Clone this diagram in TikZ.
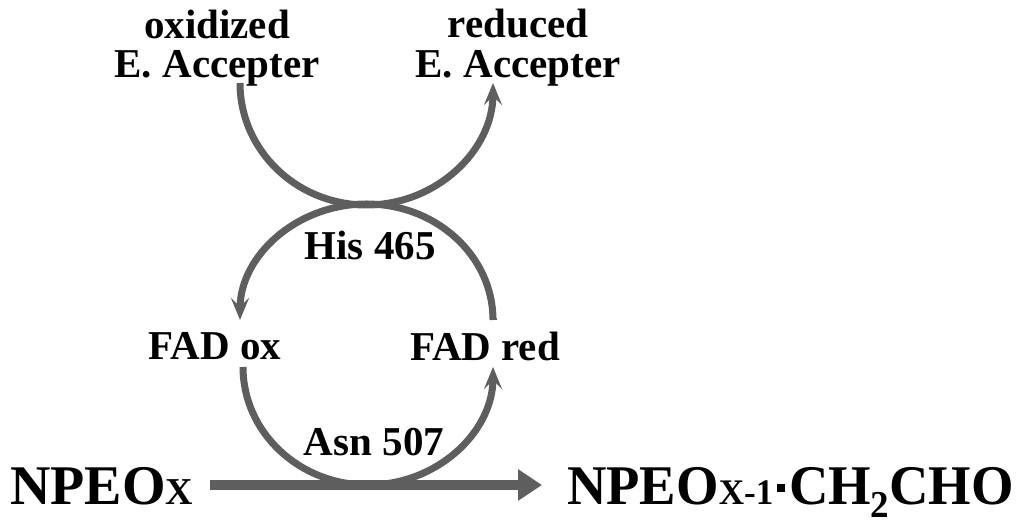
\documentclass[tikz,border=0pt]{standalone}
\usepackage{fontspec}
\setmainfont{Liberation Serif}
\usetikzlibrary{arrows.meta}
\definecolor{arcgray}{HTML}{5E5E5E}
\tikzset{
  lbl/.style={font=\fontsize{41}{44}\selectfont\bfseries, inner sep=0pt},
  big/.style={font=\fontsize{56}{60}\selectfont\bfseries, inner sep=0pt, anchor=base west},
  arcline/.style={draw=arcgray, line width=7pt},
  tip/.style={-{Stealth[length=22pt,width=18pt,inset=9pt]}},
}
\begin{document}
\begin{tikzpicture}[x=1pt,y=1pt]
\useasboundingbox (0,0) rectangle (1024,532);
% labels
\node[lbl] (ox1) at (217,508) {oxidized};
\node[lbl] (oxE) at (217,464) {E. Accepter};
\node[lbl] (re1) at (518,508) {reduced};
\node[lbl] (reE) at (518,464) {E. Accepter};
\node[lbl] (his) at (370,287) {His 465};
\node[lbl] (fox) at (215,186) {FAD ox};
\node[lbl] (fred) at (485,186) {FAD red};
\node[lbl] (asn) at (374,90) {Asn 507};
\node[big] (npeo) at (10,27) {NPEO{\fontsize{38}{40}\selectfont X}};
\node[big] (prod) at (567,27) {\scalebox{0.975}[1]{NPEO{\fontsize{36}{40}\selectfont X-1}\hspace{4pt}\raisebox{13pt}{\rule{8pt}{8pt}}\hspace{4pt}CH\raisebox{-12pt}{\fontsize{38}{40}\selectfont 2}CHO}};
% anchor coordinates
\coordinate (tA) at (240,449);
\coordinate (lA) at (493,212);
\coordinate (bA) at (243,165);
\coordinate (hS) at (210,47);
\coordinate (hE) at (542,47);
% top arc
\draw[arcline,tip] (tA) arc[start angle=180,end angle=360,x radius=126.5,y radius=122];
% middle circle (right up over top, down to FAD ox)
\draw[arcline,tip] (lA) arc[start angle=0,end angle=180,x radius=126.5,y radius=116];
\draw[arcline] (lA) -- ++(0,2);
% bottom arc
\draw[arcline,tip] (bA) arc[start angle=180,end angle=360,x radius=125,y radius=118];
% horizontal reaction arrow
\draw[draw=arcgray, line width=10pt, -{Triangle[length=24pt,width=30pt]}] (hS) -- (hE);
\end{tikzpicture}
\end{document}
